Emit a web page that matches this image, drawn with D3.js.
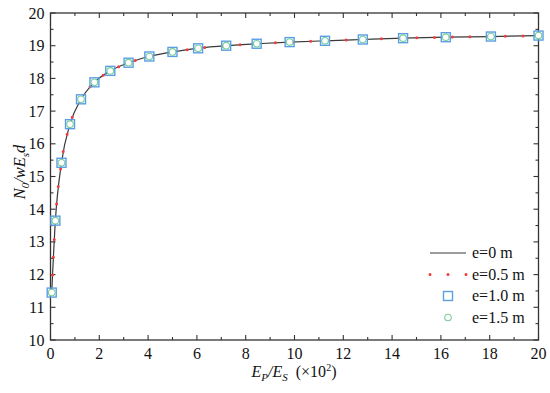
<!DOCTYPE html>
<html>
<head>
<meta charset="utf-8">
<script src="https://d3js.org/d3.v7.min.js"></script>
<style>
  body { margin: 0; background: #fff; }
  text { font-family: 'Liberation Serif', 'Times New Roman', serif; fill: #111; }
</style>
</head>
<body>
<svg id="chart" width="550" height="393"></svg>
<script>
// x = Ep/Es (x10^2)
const ratio = [0.05, 0.2, 0.45, 0.8, 1.25, 1.8, 2.45, 3.2, 4.05, 5, 6.05, 7.2, 8.45, 9.8, 11.25, 12.8, 14.45, 16.2, 18.05, 20];
const e0   = [11.45, 13.65, 15.42, 16.6, 17.36, 17.88, 18.23, 18.48, 18.67, 18.81, 18.92, 19.0, 19.06, 19.11, 19.15, 19.19, 19.23, 19.26, 19.28, 19.31];
const e05  = [11.45, 13.65, 15.42, 16.6, 17.36, 17.88, 18.23, 18.48, 18.67, 18.81, 18.92, 19.0, 19.06, 19.11, 19.15, 19.19, 19.23, 19.26, 19.28, 19.31];
const e10  = [11.45, 13.65, 15.42, 16.6, 17.36, 17.88, 18.23, 18.48, 18.67, 18.81, 18.92, 19.0, 19.06, 19.11, 19.15, 19.19, 19.23, 19.26, 19.28, 19.31];
const e15  = [11.45, 13.65, 15.42, 16.6, 17.36, 17.88, 18.23, 18.48, 18.67, 18.81, 18.92, 19.0, 19.06, 19.11, 19.15, 19.19, 19.23, 19.26, 19.28, 19.31];
const xTicks = [0, 2, 4, 6, 8, 10, 12, 14, 16, 18, 20];
const yTicks = [10, 11, 12, 13, 14, 15, 16, 17, 18, 19, 20];
const legendLabels = ["e=0 m", "e=0.5 m", "e=1.0 m", "e=1.5 m"];

const svg = d3.select("#chart");
const pLeft = 50.5, pRight = 538.5, pTop = 13, pBottom = 340;

const x = d3.scaleLinear().domain([0, 20]).range([pLeft, pRight]);
const y = d3.scaleLinear().domain([10, 20]).range([pBottom, pTop]);

const axisColor = "#333";
const minorX = d3.range(1, 20, 2);
const minorY = d3.range(10.5, 20, 1);

// frame
svg.append("rect")
    .attr("x", pLeft).attr("y", pTop)
    .attr("width", pRight - pLeft).attr("height", pBottom - pTop)
    .attr("fill", "none").attr("stroke", axisColor).attr("stroke-width", 1.3);

// ticks (inward on all sides)
const tk = svg.append("g").attr("stroke", axisColor).attr("stroke-width", 1.1);
xTicks.concat(minorX).forEach(function (v) {
    const len = xTicks.includes(v) ? 5 : 3;
    tk.append("line").attr("x1", x(v)).attr("x2", x(v)).attr("y1", pBottom).attr("y2", pBottom - len);
    tk.append("line").attr("x1", x(v)).attr("x2", x(v)).attr("y1", pTop).attr("y2", pTop + len);
});
yTicks.concat(minorY).forEach(function (v) {
    const len = yTicks.includes(v) ? 5 : 3;
    tk.append("line").attr("y1", y(v)).attr("y2", y(v)).attr("x1", pLeft).attr("x2", pLeft + len);
    tk.append("line").attr("y1", y(v)).attr("y2", y(v)).attr("x1", pRight).attr("x2", pRight - len);
});

// tick labels
svg.append("g").selectAll("text").data(xTicks).join("text")
    .attr("x", d => x(d)).attr("y", pBottom + 19)
    .attr("text-anchor", "middle")
    .style("font-size", "16px")
    .text(d => d);
svg.append("g").selectAll("text").data(yTicks).join("text")
    .attr("x", pLeft - 6).attr("y", d => y(d) + 5.5)
    .attr("text-anchor", "end")
    .style("font-size", "16px")
    .text(d => d);

// axis titles
const xl = svg.append("text")
    .attr("x", 294).attr("y", 377)
    .attr("text-anchor", "middle")
    .style("font-size", "16px");
xl.append("tspan").style("font-style", "italic").text("E");
xl.append("tspan").style("font-style", "italic").style("font-size", "11px").attr("dy", 4).text("P");
xl.append("tspan").style("font-style", "italic").attr("dy", -4).text("/E");
xl.append("tspan").style("font-style", "italic").style("font-size", "11px").attr("dy", 4).text("S");
xl.append("tspan").attr("dy", -4).text("\u00a0 (\u00d710");
xl.append("tspan").style("font-size", "10px").attr("dy", -6).text("2");
xl.append("tspan").attr("dy", 6).text(")");

const yl = svg.append("text")
    .attr("transform", "translate(25,172) rotate(-90)")
    .attr("text-anchor", "middle")
    .style("font-size", "16.5px")
    .style("font-style", "italic");
yl.append("tspan").text("N");
yl.append("tspan").style("font-size", "11px").attr("dy", 4).text("0");
yl.append("tspan").attr("dy", -4).text("/wE");
yl.append("tspan").style("font-size", "11px").attr("dy", 4).text("s");
yl.append("tspan").attr("dy", -4).text("d");

// series
const line = d3.line().x(d => x(d[0])).y(d => y(d[1])).curve(d3.curveMonotoneX);
const pts = arr => ratio.map((r, i) => [r, arr[i]]);

svg.append("path").datum(pts(e0))
    .attr("d", line)
    .attr("fill", "none").attr("stroke", "#3a3a3a").attr("stroke-width", 1.2);

svg.append("path").datum(pts(e05))
    .attr("d", line)
    .attr("fill", "none").attr("stroke", "#f03c3c").attr("stroke-width", 3)
    .attr("stroke-linecap", "round").attr("stroke-dasharray", "0 17.7");

svg.append("g").selectAll("rect").data(pts(e10)).join("rect")
    .attr("x", d => x(d[0]) - 4.5).attr("y", d => y(d[1]) - 4.5)
    .attr("width", 9).attr("height", 9)
    .attr("fill", "none").attr("stroke", "#5b9ee6").attr("stroke-width", 1.4);

svg.append("g").selectAll("circle").data(pts(e15)).join("circle")
    .attr("cx", d => x(d[0])).attr("cy", d => y(d[1]))
    .attr("r", 3.3)
    .attr("fill", "#fff").attr("stroke", "#7ccf9a").attr("stroke-width", 1.1);

// legend
const legY = [253, 274.5, 296, 317.5];
const lg = svg.append("g");
lg.append("line").attr("x1", 430).attr("x2", 466).attr("y1", legY[0]).attr("y2", legY[0])
    .attr("stroke", "#3a3a3a").attr("stroke-width", 1.2);
lg.append("line").attr("x1", 430).attr("x2", 467).attr("y1", legY[1]).attr("y2", legY[1])
    .attr("stroke", "#f03c3c").attr("stroke-width", 3)
    .attr("stroke-linecap", "round").attr("stroke-dasharray", "0 18");
lg.append("rect").attr("x", 448 - 4.5).attr("y", legY[2] - 4.5).attr("width", 9).attr("height", 9)
    .attr("fill", "none").attr("stroke", "#5b9ee6").attr("stroke-width", 1.4);
lg.append("circle").attr("cx", 448).attr("cy", legY[3]).attr("r", 3.3)
    .attr("fill", "#fff").attr("stroke", "#7ccf9a").attr("stroke-width", 1.1);
lg.selectAll("text").data(legendLabels).join("text")
    .attr("x", 472).attr("y", (d, i) => legY[i] + 5)
    .style("font-size", "16px")
    .text(d => d);
</script>
</body>
</html>
